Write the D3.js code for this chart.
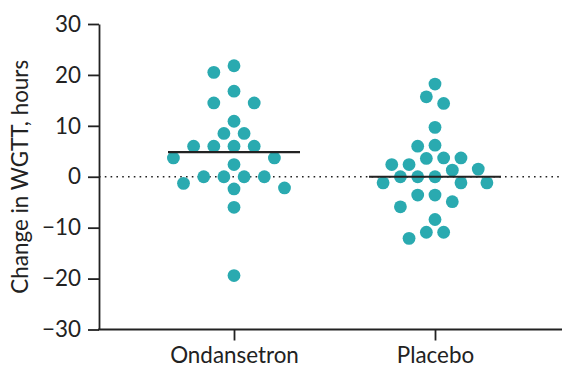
<!DOCTYPE html>
<html>
<head>
<meta charset="utf-8">
<script src="https://cdn.jsdelivr.net/npm/d3@7"></script>
<style>
  html, body { margin: 0; padding: 0; background: #fff; }
  svg { display: block; font-family: Lato, "Open Sans", sans-serif; }
</style>
</head>
<body>
<svg id="chart" width="562" height="367"></svg>
<script>
// Change in whole-gut transit time (hours) per participant
const groups = ["Ondansetron", "Placebo"];
const ondansetron = [21.8, 20.5, 16.8, 14.5, 14.5, 10.9, 8.5, 8.5, 6.0, 6.0, 6.0, 6.0,
                     3.7, 3.7, 2.4, 0, 0, 0, 0, -1.3, -2.2, -2.4, -6.0, -19.4];
const placebo = [18.2, 15.7, 14.4, 9.7, 6.2, 6.0, 3.7, 3.7, 3.6, 2.4, 2.4, 1.5, 1.3,
                 0, 0, 0, -1.2, -1.2, -1.2, -3.6, -3.6, -4.9, -5.9, -8.4, -10.9, -10.9, -12.1];
const yTicks = [-30, -20, -10, 0, 10, 20, 30];
const yLabel = "Change in WGTT, hours";

const teal = "#2aaab0";
const ink = "#222";
const fontSize = 22.4;

const svg = d3.select("#chart");
const plotLeft = 99, plotRight = 562, plotTop = 24, plotBottom = 329.5;
// horizontal grid step of the dot swarm in each group
const swarmStep = { Ondansetron: 10.1, Placebo: 8.65 };
const dotR = 6.4;

const y = d3.scaleLinear().domain([-30, 30]).range([plotBottom, plotTop]);
const x = d3.scalePoint().domain(groups).range([234, 435]);

// Zero reference line
svg.append("line")
  .attr("x1", plotLeft).attr("x2", plotRight)
  .attr("y1", y(0)).attr("y2", y(0))
  .attr("stroke", ink).attr("stroke-width", 1.6)
  .attr("stroke-dasharray", "1.6,4.2");

// Y axis
const yAxis = svg.append("g")
  .attr("transform", `translate(${plotLeft},0)`)
  .call(d3.axisLeft(y).tickValues(yTicks).tickSize(11).tickSizeOuter(0).tickPadding(7));
yAxis.select(".domain").attr("stroke", ink).attr("stroke-width", 1.8);
yAxis.selectAll(".tick line").attr("stroke", ink).attr("stroke-width", 1.8);
yAxis.selectAll(".tick text").attr("font-size", fontSize).attr("fill", ink)
  .attr("font-family", "Lato, sans-serif");

// X axis
const xAxis = svg.append("g")
  .attr("transform", `translate(0,${plotBottom})`)
  .call(d3.axisBottom(x).tickSize(11).tickSizeOuter(0).tickPadding(6.5));
xAxis.select(".domain").remove();
xAxis.append("line")
  .attr("x1", plotLeft - 0.9).attr("x2", plotRight)
  .attr("stroke", ink).attr("stroke-width", 1.8);
xAxis.selectAll(".tick line").attr("stroke", ink).attr("stroke-width", 1.8);
xAxis.selectAll(".tick text").attr("font-size", fontSize).attr("fill", ink)
  .attr("font-family", "Lato, sans-serif");

// Y axis title
svg.append("text")
  .attr("transform", `translate(28,${(plotTop + plotBottom) / 2}) rotate(-90)`)
  .attr("text-anchor", "middle")
  .attr("font-size", fontSize)
  .attr("fill", ink)
  .text(yLabel);

// Greedy beeswarm on a horizontal grid: each point takes the free slot nearest the
// centre, keeping an elliptical clearance (two grid steps across, clearY high)
function swarm(values, cx, step, clearY) {
  const clearX = 2 * step;
  const placed = [];
  const order = values.map((v, i) => ({ v, i })).sort((a, b) => b.v - a.v);
  const free = (px, py) => placed.every(p => {
    const ex = (p.x - px) / clearX, ey = (p.y - py) / clearY;
    return ex * ex + ey * ey >= 0.999;
  });
  for (const d of order) {
    const py = y(d.v);
    for (let k = 0; k < 40; k++) {
      const offs = k === 0 ? [0] : [-k * step, k * step];
      const o = offs.find(o => free(cx + o, py));
      if (o !== undefined) { placed.push({ x: cx + o, y: py, v: d.v }); break; }
    }
  }
  return placed;
}

const series = [ondansetron, placebo];
series.forEach((vals, gi) => {
  const g = groups[gi];
  const cx = x(g);
  const pts = swarm(vals, cx, swarmStep[g], 14);
  const med = d3.median(vals);

  svg.append("g").selectAll("circle")
    .data(pts)
    .join("circle")
    .attr("cx", d => d.x)
    .attr("cy", d => d.y)
    .attr("r", dotR)
    .attr("fill", teal);

  svg.append("line")
    .attr("x1", cx - 66).attr("x2", cx + 66)
    .attr("y1", y(med)).attr("y2", y(med))
    .attr("stroke", ink).attr("stroke-width", 2.2);
});
</script>
</body>
</html>
